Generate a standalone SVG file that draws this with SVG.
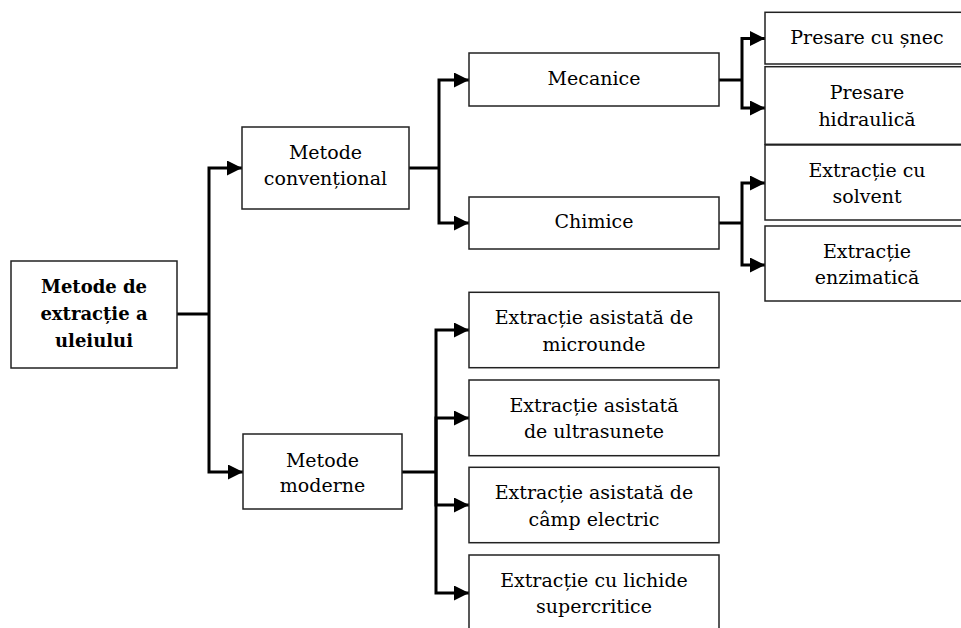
<svg xmlns="http://www.w3.org/2000/svg" width="961" height="628" viewBox="0 0 961 628">
<defs>
<marker id="ah" markerUnits="userSpaceOnUse" markerWidth="15" markerHeight="15" refX="15" refY="7.5" orient="auto">
<path d="M0,0 L15,7.5 L0,15 Z" fill="#000"/>
</marker>
<style>
.box{fill:#fff;stroke:#222;stroke-width:1.5}
.t{font-family:"DejaVu Serif","Liberation Serif",serif;font-size:19px;fill:#000;text-anchor:middle}
.b{font-weight:bold;font-size:18px}
.c{fill:none;stroke:#000;stroke-width:3;marker-end:url(#ah)}
.l{fill:none;stroke:#000;stroke-width:3}
</style>
</defs>
<rect width="961" height="628" fill="#fff"/>
<g id="connectors">
<path class="l" d="M177,314 H209"/>
<path class="c" d="M209,314 V168 H242"/>
<path class="c" d="M209,314 V472 H243"/>
<path class="l" d="M409,168 H439"/>
<path class="c" d="M439,168 V80 H469"/>
<path class="c" d="M439,168 V223 H469"/>
<path class="l" d="M719,80 H742"/>
<path class="c" d="M742,80 V38.5 H765"/>
<path class="c" d="M742,80 V108 H765"/>
<path class="l" d="M719,223 H742"/>
<path class="c" d="M742,223 V183 H765"/>
<path class="c" d="M742,223 V265 H765"/>
<path class="l" d="M402,472 H436"/>
<path class="c" d="M436,472 V330 H469"/>
<path class="c" d="M436,472 V418 H469"/>
<path class="c" d="M436,472 V505 H469"/>
<path class="c" d="M436,472 V593 H469"/>
</g>
<g id="root">
<rect class="box" x="11" y="261" width="166" height="107"/>
<text class="t b" x="94" y="292.7">Metode de</text>
<text class="t b" x="94" y="320">extracție a</text>
<text class="t b" x="94" y="346.7">uleiului</text>
</g>
<g id="conventional">
<rect class="box" x="242" y="127" width="167" height="82"/>
<text class="t" x="325.5" y="159.3">Metode</text>
<text class="t" x="325.5" y="185">convențional</text>
</g>
<g id="moderne">
<rect class="box" x="243" y="434" width="159" height="75"/>
<text class="t" x="322.5" y="466.7">Metode</text>
<text class="t" x="322.5" y="492.3">moderne</text>
</g>
<g id="mecanice">
<rect class="box" x="469" y="53" width="250" height="53"/>
<text class="t" x="594" y="85">Mecanice</text>
</g>
<g id="chimice">
<rect class="box" x="469" y="197" width="250" height="52"/>
<text class="t" x="594" y="228.3">Chimice</text>
</g>
<g id="snec">
<rect class="box" x="765" y="12.3" width="204" height="51.7"/>
<text class="t" x="867" y="44">Presare cu șnec</text>
</g>
<g id="hidraulica">
<rect class="box" x="765" y="66.7" width="204" height="77.6"/>
<text class="t" x="867" y="99">Presare</text>
<text class="t" x="867" y="125.7">hidraulică</text>
</g>
<g id="solvent">
<rect class="box" x="765" y="145" width="204" height="75"/>
<text class="t" x="867" y="176.7">Extracție cu</text>
<text class="t" x="867" y="202.7">solvent</text>
</g>
<g id="enzimatica">
<rect class="box" x="765" y="226" width="204" height="75"/>
<text class="t" x="867" y="258.3">Extracție</text>
<text class="t" x="867" y="284">enzimatică</text>
</g>
<g id="microunde">
<rect class="box" x="469" y="292.3" width="250" height="75.4"/>
<text class="t" x="594" y="324.3">Extracție asistată de</text>
<text class="t" x="594" y="350.7">microunde</text>
</g>
<g id="ultrasunete">
<rect class="box" x="469" y="380" width="250" height="75.7"/>
<text class="t" x="594" y="412.3">Extracție asistată</text>
<text class="t" x="594" y="438.3">de ultrasunete</text>
</g>
<g id="camp">
<rect class="box" x="469" y="467.3" width="250" height="75.4"/>
<text class="t" x="594" y="499">Extracție asistată de</text>
<text class="t" x="594" y="525.7">câmp electric</text>
</g>
<g id="supercritice">
<rect class="box" x="469" y="555" width="250" height="80"/>
<text class="t" x="594" y="586.7">Extracție cu lichide</text>
<text class="t" x="594" y="613.3">supercritice</text>
</g>
</svg>
